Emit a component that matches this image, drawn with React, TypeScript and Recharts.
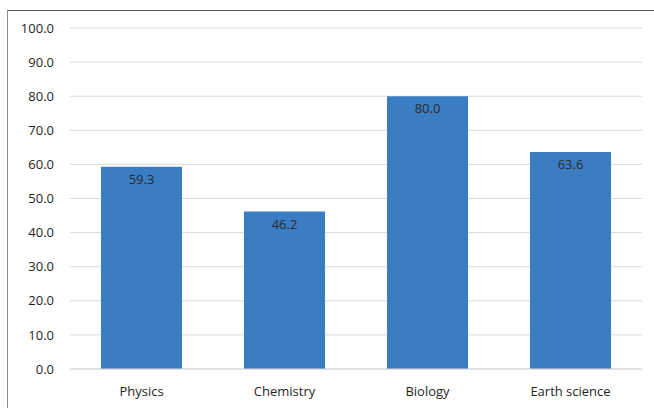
import React from "react";
import { BarChart, Bar, XAxis, YAxis, CartesianGrid, LabelList } from "recharts";

const subjects = ["Physics", "Chemistry", "Biology", "Earth science"];
const scores = [59.3, 46.2, 80.0, 63.6];
const yTicks = [0, 10, 20, 30, 40, 50, 60, 70, 80, 90, 100];

const data = subjects.map((s, i) => ({ subject: s, score: scores[i] }));

const FONT = "'Open Sans', 'Noto Sans', sans-serif";

export default function App() {
  return (
    <div style={{ position: "absolute", left: 0, top: 0, width: 654, height: 408, background: "#fff", overflow: "hidden" }}>
      {/* frame: only top and left edges are visible in the crop */}
      <div
        style={{
          position: "absolute",
          left: 7,
          top: 10,
          width: 660,
          height: 410,
          borderTop: "1px solid #595959",
          borderLeft: "1px solid #8c8c8c",
        }}
      />
      <div style={{ position: "absolute", left: 0, top: 0 }}>
        <BarChart
          width={654}
          height={408}
          data={data}
          margin={{ top: 28, right: 12, left: 0, bottom: 0 }}
          barSize={81}
        >
          <CartesianGrid vertical={false} stroke="#d9d9d9" strokeWidth={1} />
          <XAxis
            dataKey="subject"
            height={39}
            tickSize={0}
            tickMargin={18}
            axisLine={{ stroke: "#d9d9d9" }}
            tick={{ fill: "#1f1f1f", fontSize: 13, fontFamily: FONT }}
          />
          <YAxis
            width={70}
            domain={[0, 100]}
            ticks={yTicks}
            tickFormatter={(v) => Number(v).toFixed(1)}
            tickSize={0}
            tickMargin={16}
            axisLine={false}
            tick={{ fill: "#1f1f1f", fontSize: 13, fontFamily: FONT }}
          />
          <Bar dataKey="score" fill="#3a7dc2" isAnimationActive={false}>
            <LabelList
              dataKey="score"
              position="insideTop"
              offset={8}
              formatter={(v: any) => Number(v).toFixed(1)}
              style={{ fill: "#2b2b2b", fontSize: 13, fontFamily: FONT }}
            />
          </Bar>
        </BarChart>
      </div>
    </div>
  );
}
